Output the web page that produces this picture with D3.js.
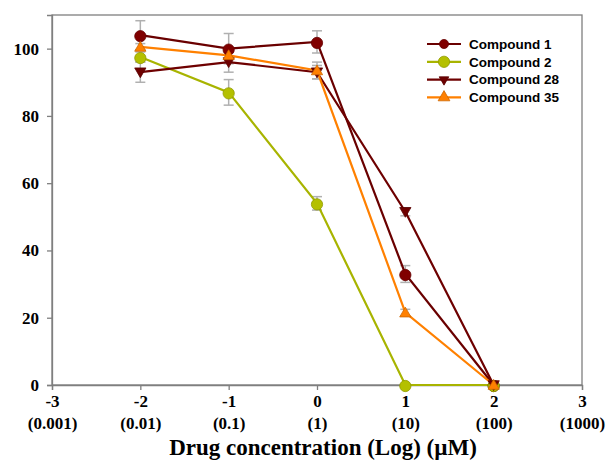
<!DOCTYPE html>
<html>
<head>
<meta charset="utf-8">
<script src="https://cdn.jsdelivr.net/npm/d3@7"></script>
<style>
  body { margin: 0; background: #fff; }
  svg { display: block; }
</style>
</head>
<body>
<div id="chart"></div>
<script>
// log concentration values and labels
var xValues = [-2, -1, 0, 1, 2];
var xTicks = [-3, -2, -1, 0, 1, 2, 3];
var xSubLabels = ["(0.001)", "(0.01)", "(0.1)", "(1)", "(10)", "(100)", "(1000)"];
var yTicks = [0, 20, 40, 60, 80, 100];

var names = ["Compound 1", "Compound 2", "Compound 28", "Compound 35"];
var compound1 = [104, 100, 102, 33, 0];
var compound2 = [97.5, 87, 54, 0, 0];
var compound28 = [93, 96, 93, 51.5, 0];
var compound35 = [100.5, 98, 93.5, 21.5, 0];
var err1 = [4.3, 4.5, 3.3, 2.5, 0];
var err2 = [1.5, 3.8, 2, 0, 0];
var err28 = [3, 3, 2, 1.2, 0];
var err35 = [1, 1, 2.5, 1, 0];

function draw() {
  var w = 606;
  var h = 462;
  var margin = {top: 15, right: 24, bottom: 77, left: 52};
  var serif = "'Liberation Serif', 'Times New Roman', serif";

  var xScale = d3.scaleLinear()
    .domain([-3, 3])
    .range([margin.left, w - margin.right]);
  var yScale = d3.scaleLinear()
    .domain([0, 110])
    .range([h - margin.bottom, margin.top]);

  var svg = d3.select("#chart")
    .append("svg")
    .attr("width", w)
    .attr("height", h);

  // frame
  svg.append("rect")
    .attr("x", margin.left)
    .attr("y", margin.top)
    .attr("width", w - margin.left - margin.right)
    .attr("height", h - margin.top - margin.bottom)
    .attr("fill", "none")
    .attr("stroke", "#7f7f7f")
    .attr("stroke-width", 1.3);

  // x axis
  var xAxis = svg.append("g")
    .attr("transform", "translate(0," + (h - margin.bottom) + ")")
    .call(d3.axisBottom(xScale).tickValues(xTicks).tickSize(5));
  xAxis.select(".domain").attr("stroke", "#7f7f7f").attr("stroke-width", 1.3);
  xAxis.selectAll(".tick line").attr("stroke", "#7f7f7f").attr("stroke-width", 1.3);
  xAxis.selectAll(".tick text")
    .attr("fill", "#000")
    .attr("y", 22)
    .attr("dy", 0)
    .style("font-family", serif)
    .style("font-weight", "bold")
    .style("font-size", "17px")
    .text(function (d) { return d < 0 ? "-" + Math.abs(d) : d; });
  xAxis.selectAll(".tick")
    .append("text")
    .attr("fill", "#000")
    .attr("y", 44)
    .attr("text-anchor", "middle")
    .style("font-family", serif)
    .style("font-weight", "bold")
    .style("font-size", "17px")
    .text(function (d, i) { return xSubLabels[i]; });

  // y axis
  var yAxis = svg.append("g")
    .attr("transform", "translate(" + margin.left + ",0)")
    .call(d3.axisLeft(yScale).tickValues(yTicks).tickSize(5));
  yAxis.select(".domain").attr("stroke", "#7f7f7f").attr("stroke-width", 1.3);
  yAxis.selectAll(".tick line").attr("stroke", "#7f7f7f").attr("stroke-width", 1.3);
  yAxis.selectAll(".tick text")
    .attr("fill", "#000")
    .attr("x", -13)
    .style("font-family", serif)
    .style("font-weight", "bold")
    .style("font-size", "17px");

  // axis title
  svg.append("text")
    .attr("x", (margin.left + w - margin.right) / 2 + 6)
    .attr("y", 455)
    .attr("text-anchor", "middle")
    .style("font-family", serif)
    .style("font-weight", "bold")
    .style("font-size", "23px")
    .text("Drug concentration (Log) (\u00b5M)");

  var series = [
    {name: names[0], values: compound1, err: err1, color: "#800000", stroke: "#6a0000", marker: "circle"},
    {name: names[1], values: compound2, err: err2, color: "#b4c000", stroke: "#a8b400", marker: "circle"},
    {name: names[2], values: compound28, err: err28, color: "#6e0000", stroke: "#6e0000", marker: "down"},
    {name: names[3], values: compound35, err: err35, color: "#ff8000", stroke: "#ff8000", marker: "up"}
  ];

  var line = d3.line()
    .x(function (d) { return xScale(d.x); })
    .y(function (d) { return yScale(d.y); });

  function points(s) {
    return xValues.map(function (x, i) {
      return {x: x, y: s.values[i], e: s.err[i]};
    });
  }

  var symbolFor = {
    circle: d3.symbol().type(d3.symbolCircle).size(100),
    up: d3.symbol().type(d3.symbolTriangle).size(55),
    down: d3.symbol().type(d3.symbolTriangle).size(55)
  };

  // error bars
  series.forEach(function (s) {
    var eb = svg.append("g").selectAll("g")
      .data(points(s).filter(function (d) { return d.e > 0; }))
      .enter()
      .append("g")
      .attr("stroke", "#b0b0b0")
      .attr("stroke-width", 1.5);
    eb.append("line")
      .attr("x1", function (d) { return xScale(d.x); })
      .attr("x2", function (d) { return xScale(d.x); })
      .attr("y1", function (d) { return yScale(d.y - d.e); })
      .attr("y2", function (d) { return yScale(d.y + d.e); });
    [-1, 1].forEach(function (sign) {
      eb.append("line")
        .attr("x1", function (d) { return xScale(d.x) - 5; })
        .attr("x2", function (d) { return xScale(d.x) + 5; })
        .attr("y1", function (d) { return yScale(d.y + sign * d.e); })
        .attr("y2", function (d) { return yScale(d.y + sign * d.e); });
    });
  });

  // lines
  series.forEach(function (s) {
    svg.append("path")
      .datum(points(s))
      .attr("fill", "none")
      .attr("stroke", s.stroke)
      .attr("stroke-width", 2.2)
      .attr("d", line);
  });

  // markers
  series.forEach(function (s) {
    svg.append("g").selectAll("path")
      .data(points(s))
      .enter()
      .append("path")
      .attr("d", symbolFor[s.marker])
      .attr("transform", function (d) {
        var rot = s.marker === "down" ? " rotate(180)" : "";
        return "translate(" + xScale(d.x) + "," + (yScale(d.y) + (s.marker === "down" ? -1 : 1)) + ")" + rot;
      })
      .attr("fill", s.color)
      .attr("stroke", d3.color(s.color).darker(0.6))
      .attr("stroke-width", 0.8);
  });

  // legend
  var legend = svg.selectAll(".legend")
    .data(series)
    .enter()
    .append("g")
    .attr("class", "legend")
    .attr("transform", function (d, i) {
      return "translate(427," + (44 + i * 17.8) + ")";
    });

  legend.append("line")
    .attr("x1", 0)
    .attr("x2", 34)
    .attr("stroke", function (d) { return d.stroke; })
    .attr("stroke-width", 2.2);

  legend.append("path")
    .attr("d", function (d) {
      return d.marker === "circle" ? d3.symbol().type(d3.symbolCircle).size(d.name === "Compound 2" ? 100 : 65)() : d3.symbol().type(d3.symbolTriangle).size(d.marker === "up" ? 60 : 40)();
    })
    .attr("transform", function (d) {
      return "translate(17,0)" + (d.marker === "down" ? " rotate(180)" : "");
    })
    .attr("fill", function (d) { return d.color; })
    .attr("stroke", function (d) { return d3.color(d.color).darker(0.6); })
    .attr("stroke-width", 0.8);

  legend.append("text")
    .attr("x", 42)
    .attr("dy", "0.35em")
    .style("font-family", "'Liberation Sans', Arial, sans-serif")
    .style("font-weight", "bold")
    .style("font-size", "13.5px")
    .text(function (d) { return d.name; });
}

window.onload = function () {
  draw();
};
</script>
</body>
</html>
